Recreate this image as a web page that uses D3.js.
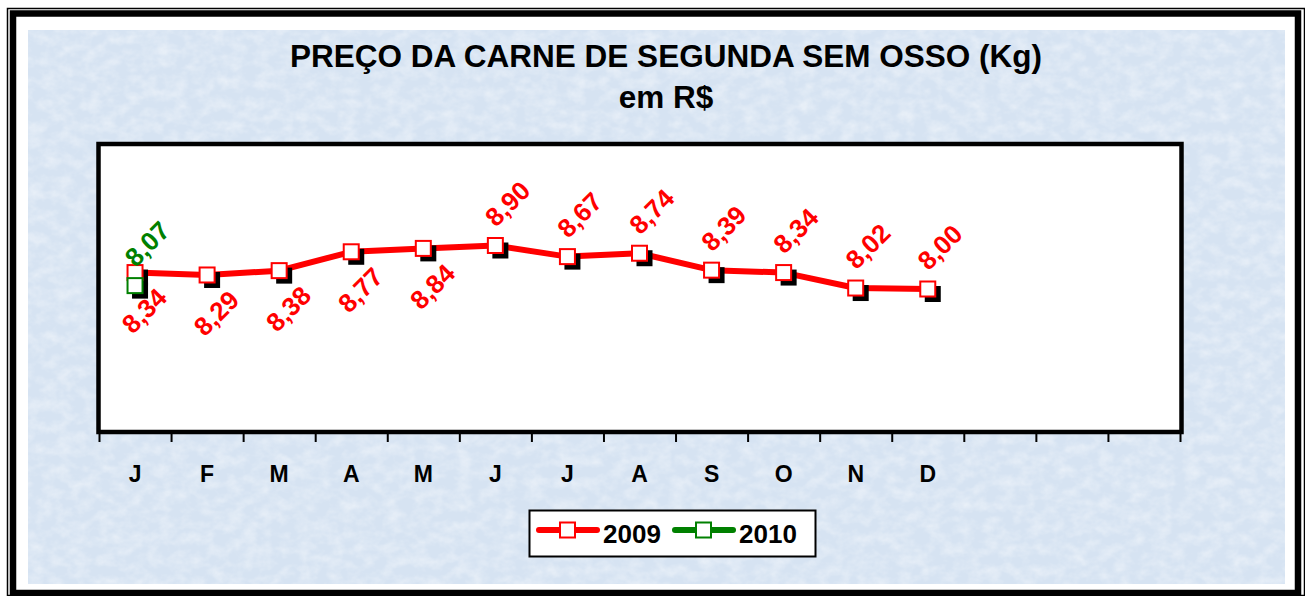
<!DOCTYPE html>
<html>
<head>
<meta charset="utf-8">
<script src="https://cdnjs.cloudflare.com/ajax/libs/d3/7.8.5/d3.min.js"></script>
<style>
  html, body { margin: 0; padding: 0; background: #fff; }
  svg { display: block; font-family: Arial, "Liberation Sans", sans-serif; font-weight: bold; }
</style>
</head>
<body>
<div id="chart"></div>
<script>
// Chart values
var months = ["J", "F", "M", "A", "M", "J", "J", "A", "S", "O", "N", "D", "", "", ""];
var values2009 = [8.34, 8.29, 8.38, 8.77, 8.84, 8.90, 8.67, 8.74, 8.39, 8.34, 8.02, 8.00];
var values2010 = [8.07];
var seriesNames = ["2009", "2010"];
var seriesColors = ["#ff0000", "#008000"];
var titleLines = ["PREÇO DA CARNE DE SEGUNDA SEM OSSO (Kg)", "em R$"];

var WIDTH = 1305, HEIGHT = 596;

function fmt(v) {
    return v.toFixed(2).replace(".", ",");
}

function createChart(id) {

    var svg = d3.select(id).append("svg")
        .attr("width", WIDTH)
        .attr("height", HEIGHT);

    // paper texture for the chart area
    var defs = svg.append("defs");
    var tex = defs.append("filter").attr("id", "tex")
        .attr("x", 0).attr("y", 0).attr("width", "100%").attr("height", "100%");
    tex.append("feTurbulence")
        .attr("type", "fractalNoise")
        .attr("baseFrequency", "0.07 0.09")
        .attr("numOctaves", 3)
        .attr("seed", 11);
    tex.append("feColorMatrix")
        .attr("type", "matrix")
        .attr("values", "0 0 0 0 1  0 0 0 0 1  0 0 0 0 1  1.4 0 0 0 -0.5");

    svg.append("rect")
        .attr("x", 28).attr("y", 30)
        .attr("width", 1257).attr("height", 554)
        .attr("fill", "#d6e3f2");
    svg.append("rect")
        .attr("x", 28).attr("y", 30)
        .attr("width", 1257).attr("height", 554)
        .attr("filter", "url(#tex)")
        .attr("opacity", 0.55);

    // double frame
    svg.append("rect")
        .attr("x", 7.5).attr("y", 8.5)
        .attr("width", 1297).attr("height", 587)
        .attr("fill", "none").attr("stroke", "#000").attr("stroke-width", 1.5);
    svg.append("rect")
        .attr("x", 13).attr("y", 13.5)
        .attr("width", 1285).attr("height", 579.5)
        .attr("fill", "none").attr("stroke", "#000").attr("stroke-width", 6.5);

    // titles
    svg.selectAll(".title")
        .data(titleLines)
        .enter().append("text")
        .attr("class", "title")
        .attr("x", 666)
        .attr("y", function(d, i) { return i === 0 ? 67 : 108; })
        .attr("text-anchor", "middle")
        .attr("font-size", 31.5)
        .attr("fill", "#000")
        .text(function(d) { return d; });

    // plot area
    var left = 99, right = 1180, top = 144, bottom = 434;

    svg.append("rect")
        .attr("x", left - 0.5).attr("y", top)
        .attr("width", right - left + 2).attr("height", bottom - top - 2)
        .attr("fill", "#fff")
        .attr("stroke", "#000")
        .attr("stroke-width", 4.5);

    var x = d3.scaleBand()
        .domain(d3.range(months.length))
        .range([left, right]);

    var xEdge = d3.scaleLinear()
        .domain([0, months.length])
        .range([left, right]);

    var y = d3.scaleLinear()
        .domain([5, 11])
        .range([bottom, top]);

    var axis = svg.append("g")
        .attr("transform", "translate(0," + (bottom - 1) + ")")
        .call(d3.axisBottom(xEdge)
            .tickValues(d3.range(months.length + 1))
            .tickSize(9)
            .tickSizeOuter(0)
            .tickFormat(""));
    axis.select(".domain").remove();
    axis.selectAll(".tick line").attr("stroke", "#000").attr("stroke-width", 2);

    svg.selectAll(".month")
        .data(months)
        .enter().append("text")
        .attr("class", "month")
        .attr("x", function(d, i) { return x(i) + x.bandwidth() / 2; })
        .attr("y", 482)
        .attr("text-anchor", "middle")
        .attr("font-size", 23)
        .attr("fill", "#000")
        .text(function(d) { return d; });

    var cx = function(d, i) { return x(i) + x.bandwidth() / 2; };

    var line = d3.line()
        .x(cx)
        .y(function(d) { return y(d); });

    var series = [values2009, values2010];

    series.forEach(function(vals, s) {
        var color = seriesColors[s];
        var g = svg.append("g").attr("class", "series");

        if (vals.length > 1) {
            g.append("path")
                .datum(vals)
                .attr("d", line)
                .attr("fill", "none")
                .attr("stroke", color)
                .attr("stroke-width", 6)
                .attr("stroke-linejoin", "round");
        }

        var pts = g.selectAll(".pt")
            .data(vals)
            .enter().append("g")
            .attr("class", "pt")
            .attr("transform", function(d, i) { return "translate(" + cx(d, i) + "," + y(d) + ")"; });

        pts.append("rect")
            .attr("x", -8 + 5).attr("y", -8 + 5)
            .attr("width", 16).attr("height", 16)
            .attr("fill", "#000");
        pts.append("rect")
            .attr("x", -7.5).attr("y", -7.5)
            .attr("width", 15).attr("height", 15)
            .attr("fill", "#fff")
            .attr("stroke", color)
            .attr("stroke-width", 2);

        // labels: early 2009 months sit below the line, the rest above
        g.selectAll(".lbl")
            .data(vals)
            .enter().append("text")
            .attr("class", "lbl")
            .attr("transform", function(d, i) {
                var below = s === 0 && i < 5;
                var lx = cx(d, i) + (below ? 9 : 12);
                var ly = y(d) + (below ? 38 : -42);
                return "translate(" + lx + "," + ly + ") rotate(-45)";
            })
            .attr("text-anchor", "middle")
            .attr("dy", "0.36em")
            .attr("font-size", 26)
            .attr("fill", color)
            .text(function(d) { return fmt(d); });
    });

    // legend
    var legend = svg.append("g").attr("transform", "translate(529,510)");
    legend.append("rect")
        .attr("x", 0.5).attr("y", 0.5)
        .attr("width", 286).attr("height", 46)
        .attr("fill", "#fff")
        .attr("stroke", "#000")
        .attr("stroke-width", 2);

    var item = legend.selectAll(".item")
        .data(seriesNames)
        .enter().append("g")
        .attr("class", "item")
        .attr("transform", function(d, i) { return "translate(" + (8 + i * 136) + ",0)"; });

    item.append("line")
        .attr("x1", 2).attr("x2", 60)
        .attr("y1", 20).attr("y2", 20)
        .attr("stroke", function(d, i) { return seriesColors[i]; })
        .attr("stroke-width", 6)
        .attr("stroke-linecap", "round");
    item.append("rect")
        .attr("x", 23).attr("y", 12.5)
        .attr("width", 15).attr("height", 15)
        .attr("fill", "#fff")
        .attr("stroke", function(d, i) { return seriesColors[i]; })
        .attr("stroke-width", 2);
    item.append("text")
        .attr("x", 66)
        .attr("y", 33)
        .attr("font-size", 26)
        .attr("fill", "#000")
        .text(function(d) { return d; });
}

createChart("#chart");
</script>
</body>
</html>
